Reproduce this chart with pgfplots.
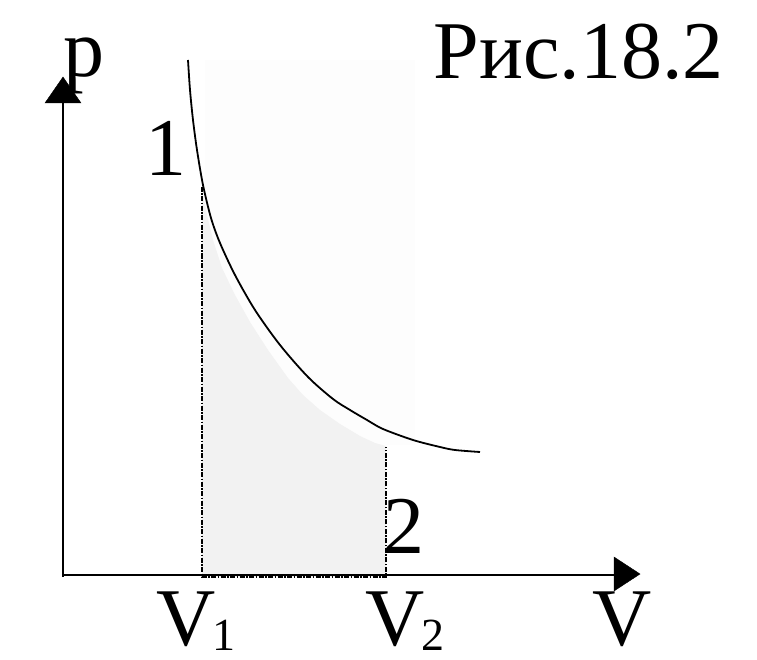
\documentclass[border=0pt]{standalone}
\usepackage{pgfplots}
\pgfplotsset{compat=1.18}
\usepackage{fontspec}
\setmainfont{Liberation Serif}
\newcommand{\lbig}{\fontsize{82}{82}\selectfont}
\newcommand{\lsub}{\fontsize{46}{46}\selectfont}
\begin{document}
\begin{tikzpicture}
\begin{axis}[
  width=757pt, height=660pt, scale only axis,
  xmin=0, xmax=757, ymin=0, ymax=660, y dir=reverse,
  hide axis, clip=false]
% bounding frame
\addplot[draw=none, forget plot] coordinates {(0,0) (757,660)};
% faint background rectangle
\addplot[draw=none, fill=black!0.8] coordinates {(205,60) (415,60) (415,445) (205,445)} --cycle;
% shaded work area
\addplot[draw=none, fill=black!5] coordinates {
 (202,577) (202,190) (207,215) (213,240) (222,268) (235,295) (250,322) (268,350)
 (288,378) (303,395) (320,410) (340,424) (360,436) (375,443) (386,446) (386,577)} --cycle;
% dash-dot boundaries
\addplot[black, line width=2.2pt, dash pattern=on 5pt off 1.5pt on 1.5pt off 1.5pt] coordinates {(202,187) (202,577) (386,577) (386,447)};
% axes
\addplot[black, line width=1.8pt] coordinates {(63,577) (63,100)};
\addplot[black, line width=1.8pt] coordinates {(63,575) (618,575)};
\addplot[fill=black, draw=black] coordinates {(63,77) (81,103) (45,103)} --cycle;
\addplot[fill=black, draw=black] coordinates {(640,574) (614,557) (614,591)} --cycle;
% isotherm curve
\addplot[black, line width=1.8pt, smooth] coordinates {
 (188,60) (190,90) (193,120) (197,150) (203,185) (211,218) (220,243) (235,275)
 (255,310) (280,345) (308,377) (333,399) (350,410) (367,420) (383,429) (413,440)
 (440,447) (455,450) (480,452)};
% labels
\node[anchor=base] at (axis cs:84,77) {\lbig p};
\node[anchor=base east, inner sep=0pt] at (axis cs:724,79) {\lbig Рис.18.2};
\node[anchor=base, inner sep=0pt] at (axis cs:166,176) {\lbig 1};
\node[anchor=base, inner sep=0pt] at (axis cs:404,553) {\lbig 2};
\node[anchor=base west, inner sep=0pt] at (axis cs:156,645) {\lbig V\kern-3pt\raisebox{-5pt}{\lsub 1}};
\node[anchor=base west, inner sep=0pt] at (axis cs:365,645) {\lbig V\kern-3pt\raisebox{-5pt}{\lsub 2}};
\node[anchor=base west, inner sep=0pt] at (axis cs:592,645) {\lbig V};
\end{axis}
\end{tikzpicture}
\end{document}
